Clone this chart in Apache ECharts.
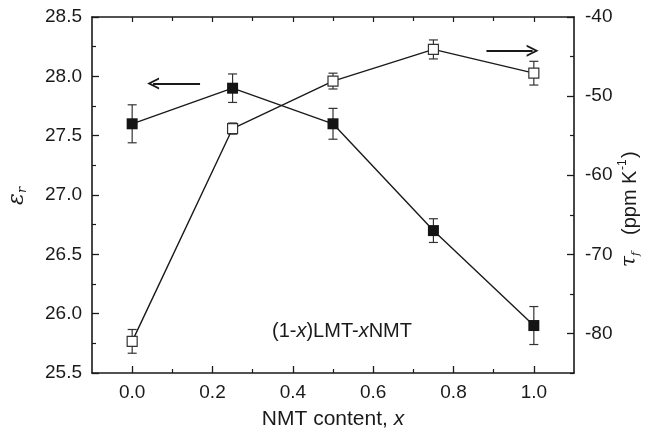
<!DOCTYPE html>
<html>
<head>
<meta charset="utf-8">
<script src="https://cdn.jsdelivr.net/npm/echarts@6/dist/echarts.min.js"></script>
<style>
  html, body { margin: 0; padding: 0; background: #fff; }
  #chart { width: 645px; height: 436px; }
</style>
</head>
<body>
<div id="chart"></div>
<script>
// NMT content of the (1-x)LMT-xNMT ceramics
const nmtX = [0, 0.25, 0.5, 0.75, 1.0];
// relative permittivity (left axis) and its error
const epsR = [27.6, 27.9, 27.6, 26.7, 25.9];
const epsErr = [0.16, 0.12, 0.13, 0.10, 0.16];
// temperature coefficient of resonant frequency, ppm/K (right axis) and its error
const tauF = [-81.0, -54.1, -48.1, -44.1, -47.1];
const tauErr = [1.5, 0.7, 1.0, 1.2, 1.5];

// tick values
const xTicks = [0, 0.2, 0.4, 0.6, 0.8, 1.0];
const xMinorTicks = [0.1, 0.3, 0.5, 0.7, 0.9];
const tauTicks = [-80, -70, -60, -50, -40];
const tauMinorTicks = [-85, -75, -65, -55, -45];

// arrows telling which axis each curve belongs to: [x start, x end, y]
const arrowEps = [0.169, 0.052, 27.94];
const arrowTau = [0.882, 0.997, -44.26];

const FONT = '"Liberation Sans", Arial, Helvetica, sans-serif';
const INK = '#1a1a1a';
const TICK_FONT = 19;

const chart = echarts.init(document.getElementById('chart'), null, { renderer: 'canvas' });

function pairs(xs, ys) { return xs.map((x, i) => [x, ys[i]]); }
function triples(xs, ys, es) { return xs.map((x, i) => [x, ys[i], es[i]]); }

// vertical error bar with caps, drawn in data coordinates
function errorBars(params, api) {
  const x = api.value(0), y = api.value(1), e = api.value(2);
  const top = api.coord([x, y + e]);
  const bot = api.coord([x, y - e]);
  const half = 4.5;
  const style = { stroke: '#333', lineWidth: 1.2, fill: null };
  return {
    type: 'group',
    children: [
      { type: 'line', shape: { x1: top[0], y1: top[1], x2: bot[0], y2: bot[1] }, style },
      { type: 'line', shape: { x1: top[0] - half, y1: top[1], x2: top[0] + half, y2: top[1] }, style },
      { type: 'line', shape: { x1: bot[0] - half, y1: bot[1], x2: bot[0] + half, y2: bot[1] }, style }
    ]
  };
}

const chevron = 'path://M0,12 L6,0 L12,12 L10,12 L6,4 L2,12 Z';

const xBase = {
  type: 'value', min: -0.1, max: 1.1,
  splitLine: { show: false }
};

const option = {
  animation: false,
  backgroundColor: '#fff',
  grid: { left: 92, right: 71, top: 17, bottom: 63, containLabel: false },
  xAxis: [
    Object.assign({}, xBase, {
      position: 'bottom',
      name: '{a|NMT content, }{i|x}',
      nameLocation: 'middle',
      nameGap: 36,
      nameTextStyle: {
        rich: {
          a: { fontFamily: FONT, fontSize: 21, color: INK },
          i: { fontFamily: FONT, fontSize: 21, color: INK, fontStyle: 'italic' }
        }
      },
      axisLine: { show: true, onZero: false, lineStyle: { color: INK, width: 1.6 } },
      axisTick: { show: true, inside: true, length: 7, customValues: xTicks, lineStyle: { color: INK, width: 1.3 } },
      axisLabel: {
        show: true, customValues: xTicks, margin: 10,
        fontFamily: FONT, fontSize: TICK_FONT, color: INK,
        formatter: v => v.toFixed(1)
      }
    }),
    Object.assign({}, xBase, {
      position: 'bottom',
      axisLine: { show: false, onZero: false },
      axisTick: { show: true, inside: true, length: 4, customValues: xMinorTicks, lineStyle: { color: INK, width: 1.2 } },
      axisLabel: { show: false }
    }),
    Object.assign({}, xBase, {
      position: 'top',
      axisLine: { show: true, onZero: false, lineStyle: { color: INK, width: 1.6 } },
      axisTick: { show: true, inside: true, length: 5, customValues: xTicks, lineStyle: { color: INK, width: 1.2 } },
      axisLabel: { show: false }
    }),
    Object.assign({}, xBase, {
      position: 'top',
      axisLine: { show: false, onZero: false },
      axisTick: { show: true, inside: true, length: 4, customValues: xMinorTicks, lineStyle: { color: INK, width: 1.2 } },
      axisLabel: { show: false }
    })
  ],
  yAxis: [
    {
      type: 'value', position: 'left',
      min: 25.5, max: 28.5, interval: 0.5,
      splitLine: { show: false },
      axisLine: { show: true, onZero: false, lineStyle: { color: INK, width: 1.6 } },
      axisTick: { show: true, inside: true, length: 7, lineStyle: { color: INK, width: 1.3 } },
      minorTick: { show: true, splitNumber: 2, length: 4, lineStyle: { color: INK, width: 1.2 } },
      axisLabel: {
        show: true, margin: 10,
        fontFamily: FONT, fontSize: TICK_FONT, color: INK,
        formatter: v => v.toFixed(1)
      }
    },
    {
      type: 'value', position: 'right',
      min: -85, max: -40,
      splitLine: { show: false },
      axisLine: { show: true, onZero: false, lineStyle: { color: INK, width: 1.6 } },
      axisTick: { show: true, inside: true, length: 7, customValues: tauTicks, lineStyle: { color: INK, width: 1.3 } },
      axisLabel: {
        show: true, customValues: tauTicks, margin: 11,
        fontFamily: FONT, fontSize: TICK_FONT, color: INK,
        formatter: v => String(v)
      }
    },
    {
      type: 'value', position: 'right',
      min: -85, max: -40,
      splitLine: { show: false },
      axisLine: { show: false, onZero: false },
      axisTick: { show: true, inside: true, length: 4, customValues: tauMinorTicks, lineStyle: { color: INK, width: 1.2 } },
      axisLabel: { show: false }
    }
  ],
  series: [
    {
      type: 'custom', name: 'eps error', xAxisIndex: 0, yAxisIndex: 0, z: 1,
      renderItem: errorBars, data: triples(nmtX, epsR, epsErr), silent: true
    },
    {
      type: 'custom', name: 'tau error', xAxisIndex: 0, yAxisIndex: 1, z: 1,
      renderItem: errorBars, data: triples(nmtX, tauF, tauErr), silent: true
    },
    {
      type: 'line', name: 'εr', xAxisIndex: 0, yAxisIndex: 0, z: 3,
      data: pairs(nmtX, epsR),
      symbol: 'rect', symbolSize: 11, showAllSymbol: true,
      lineStyle: { color: INK, width: 1.4 },
      itemStyle: { color: '#141414', borderColor: '#141414', borderWidth: 0 },
      markLine: {
        silent: true, animation: false,
        symbol: ['none', chevron], symbolSize: [12, 12],
        lineStyle: { color: INK, width: 2.2, type: 'solid' },
        label: { show: false },
        data: [[{ coord: [arrowEps[0], arrowEps[2]] }, { coord: [arrowEps[1], arrowEps[2]] }]]
      }
    },
    {
      type: 'line', name: 'τf', xAxisIndex: 0, yAxisIndex: 1, z: 3,
      data: pairs(nmtX, tauF),
      symbol: 'rect', symbolSize: 10, showAllSymbol: true,
      lineStyle: { color: INK, width: 1.4 },
      itemStyle: { color: '#ffffff', borderColor: '#333', borderWidth: 1.2 },
      markLine: {
        silent: true, animation: false,
        symbol: ['none', chevron], symbolSize: [12, 12],
        lineStyle: { color: INK, width: 2.2, type: 'solid' },
        label: { show: false },
        data: [[{ coord: [arrowTau[0], arrowTau[2]] }, { coord: [arrowTau[1], arrowTau[2]] }]]
      }
    }
  ],
  graphic: [
    {
      type: 'text', left: 272, top: 321,
      style: {
        text: '(1-{i|x})LMT-{i|x}NMT',
        font: '20px ' + FONT, fill: INK,
        rich: {
          i: { fontFamily: FONT, fontSize: 20, fontStyle: 'italic', fill: INK }
        }
      }
    },
    {
      type: 'group', x: 17, y: 197, rotation: Math.PI / 2,
      children: [
        { type: 'text', x: -8, y: 0, style: { text: 'ε', font: 'italic 22px "DejaVu Serif", serif', fill: INK, textAlign: 'left', textVerticalAlign: 'middle' } },
        { type: 'text', x: 4, y: 6, style: { text: 'r', font: 'italic 13px "DejaVu Serif", serif', fill: INK, textAlign: 'left', textVerticalAlign: 'middle' } }
      ]
    },
    {
      type: 'group', x: 630, y: 195, rotation: Math.PI / 2,
      children: [
        { type: 'text', x: -72, y: 0, style: { text: 'τ', font: 'italic 20px "DejaVu Serif", serif', fill: INK, textAlign: 'left', textVerticalAlign: 'middle' } },
        { type: 'text', x: -61, y: 6, style: { text: 'f', font: 'italic 11px "DejaVu Serif", serif', fill: INK, textAlign: 'left', textVerticalAlign: 'middle' } },
        { type: 'text', x: -40, y: 0, style: { text: '(ppm K', font: '20px ' + FONT, fill: INK, textAlign: 'left', textVerticalAlign: 'middle' } },
        { type: 'text', x: 25, y: -7, style: { text: '-1', font: '12px ' + FONT, fill: INK, textAlign: 'left', textVerticalAlign: 'middle' } },
        { type: 'text', x: 37, y: 0, style: { text: ')', font: '20px ' + FONT, fill: INK, textAlign: 'left', textVerticalAlign: 'middle' } }
      ]
    }
  ]
};

chart.setOption(option);
</script>
</body>
</html>
